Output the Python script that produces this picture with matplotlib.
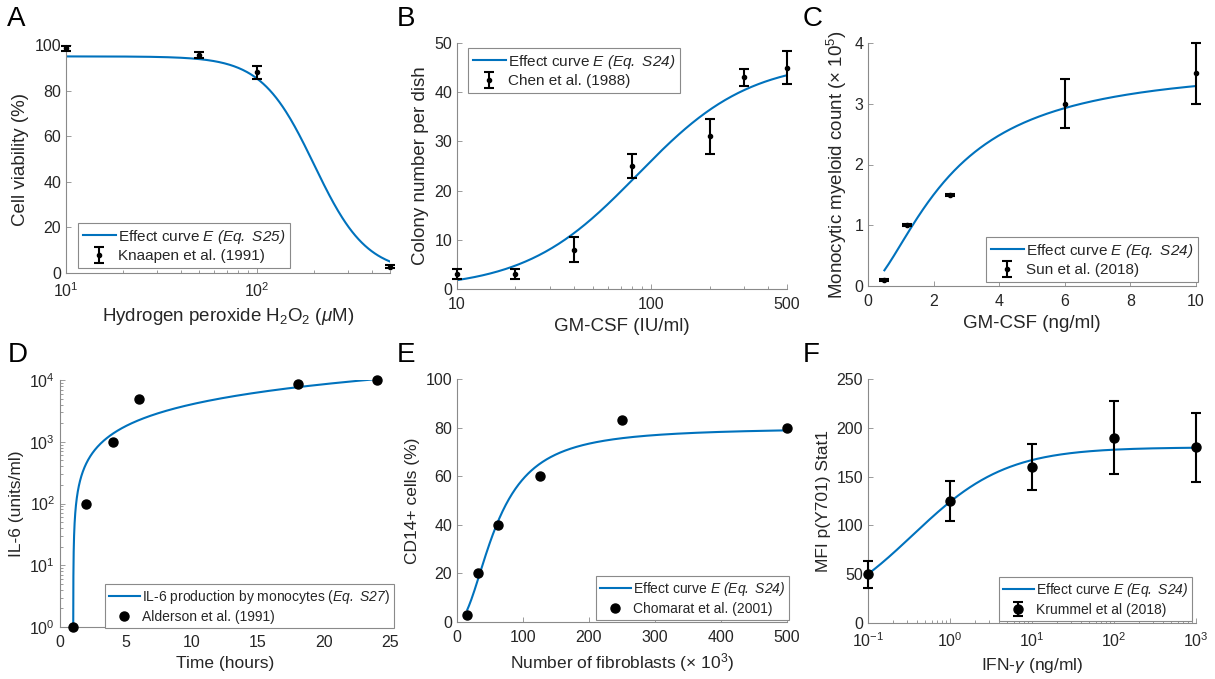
import numpy as np
import matplotlib
matplotlib.use("Agg")
import matplotlib.pyplot as plt

plt.rcParams['font.family'] = ['Liberation Sans', 'DejaVu Sans']
plt.rcParams['mathtext.fontset'] = 'custom'
# rm is italic too, so digits and brackets inside $...$ come out italic;
# upright bits use \mathdefault
plt.rcParams['mathtext.rm'] = 'Liberation Sans:italic'
plt.rcParams['mathtext.it'] = 'Liberation Sans:italic'
plt.rcParams['mathtext.bf'] = 'Liberation Sans:bold'

BLUE = '#0072BD'
GRAY = '#8a8a8a'
TXT = '#262626'

# A: H2O2 viability (Knaapen et al. 1991)
a_x = [10, 50, 100, 500]
a_y = [98.5, 95.6, 88, 2.8]
a_err = [1.2, 1.2, 2.9, 0.8]
a_top, a_ic50, a_hill = 95, 200, 3.15

# B: GM-CSF colonies (Chen et al. 1988)
b_x = [10, 20, 40, 80, 200, 300, 500]
b_y = [3, 3, 8, 25, 31, 43, 45]
b_err = [1.0, 1.0, 2.5, 2.4, 3.6, 1.8, 3.3]
b_max, b_ec50, b_hill = 46.5, 85, 1.5

# C: monocytic myeloid count (Sun et al. 2018)
c_x = [0.5, 1.2, 2.5, 6, 10]
c_y = [0.1, 1.0, 1.5, 3.0, 3.5]
c_err = [0.02, 0.02, 0.02, 0.4, 0.5]
c_max, c_ec50, c_hill = 3.65, 2.5, 1.6

# D: IL-6 (Alderson et al. 1991)
d_t = [1, 2, 4, 6, 18, 24]
d_y = [1, 100, 1000, 5000, 8500, 10000]
d_rate, d_t0 = 450, 1.0

# E: CD14+ cells (Chomarat et al. 2001)
e_x = [15.625, 31.25, 62.5, 125, 250, 500]
e_y = [3, 20, 40, 60, 83, 80]
e_max, e_ec50, e_hill = 80, 60, 2.0

# F: pStat1 (Krummel et al 2018)
f_x = [0.1, 1, 10, 100, 1000]
f_y = [50, 125, 160, 190, 180]
f_err = [13.7, 20, 23.5, 37, 35.5]
f_max, f_ec50, f_hill = 180, 0.35, 0.76

W, H = 1215, 679
fig = plt.figure(figsize=(W / 100, H / 100), dpi=100)


def axes_px(x0, y0, x1, y1):
    ax = fig.add_axes([x0 / W, 1 - y1 / H, (x1 - x0) / W, (y1 - y0) / H])
    for s in ['top', 'right']:
        ax.spines[s].set_visible(False)
    for s in ['left', 'bottom']:
        ax.spines[s].set_color(GRAY)
        ax.spines[s].set_linewidth(0.8)
    ax.tick_params(which='both', direction='in', color=GRAY, labelcolor=TXT,
                   labelsize=11.5, width=0.6)
    ax.tick_params(which='major', length=3.5)
    ax.tick_params(which='minor', length=2)
    ax.tick_params(axis='x', which='both', pad=6)
    return ax


def legend_px(ax, x0, y0, fs):
    leg = ax.legend(loc='upper left', bbox_to_anchor=(x0 / W, 1 - y0 / H),
                    bbox_transform=fig.transFigure, borderaxespad=0,
                    fontsize=fs, fancybox=False, framealpha=1,
                    edgecolor=GRAY, handlelength=2.2, handletextpad=0.15,
                    labelspacing=0.25, borderpad=0.3)
    leg.get_frame().set_linewidth(0.8)
    for t in leg.get_texts():
        t.set_color(TXT)
    return leg


def label(lx, ly, s):
    fig.text(lx / W, 1 - ly / H, s, fontsize=20, ha='left', va='top')


eb_kw = dict(fmt='.', color='k', ms=6, capsize=3.5, elinewidth=1.5,
             capthick=1.5, clip_on=False, zorder=3)
top_lab = dict(fontsize=13.5, color=TXT)
bot_lab = dict(fontsize=12.5, color=TXT)
eff24 = r'Effect curve $E\ (Eq.\ S24)$'

# ---- A
ax = axes_px(66, 45, 390, 273)
xs = np.logspace(1, np.log10(500), 300)
ax.plot(xs, a_top / (1 + (xs / a_ic50) ** a_hill), color=BLUE, lw=1.5,
        label=r'Effect curve $E\ (Eq.\ S25)$')
ax.errorbar(a_x, a_y, yerr=a_err, label='Knaapen et al. (1991)', **eb_kw)
ax.set_xscale('log')
ax.set_xlim(10, 500)
ax.set_ylim(0, 100)
ax.set_yticks(range(0, 101, 20))
ax.set_xticks([10, 100])
ax.set_xlabel(r'Hydrogen peroxide H$_\mathdefault{2}$O$_\mathdefault{2}$ ($\mu$M)', **top_lab)
ax.set_ylabel('Cell viability (%)', **top_lab)
legend_px(ax, 78, 223, 11)
label(7, 6, 'A')

# ---- B
ax = axes_px(457, 43, 787, 289)
xs = np.logspace(1, np.log10(500), 300)
ax.plot(xs, b_max * xs ** b_hill / (b_ec50 ** b_hill + xs ** b_hill), color=BLUE,
        lw=1.5, label=eff24)
ax.errorbar(b_x, b_y, yerr=b_err, label='Chen et al. (1988)', **eb_kw)
ax.set_xscale('log')
ax.set_xlim(10, 500)
ax.set_ylim(0, 50)
ax.set_xticks([10, 100, 500])
ax.set_xticklabels(['10', '100', '500'])
ax.set_xlabel('GM-CSF (IU/ml)', **top_lab)
ax.set_ylabel('Colony number per dish', **top_lab)
legend_px(ax, 468, 48, 11)
label(397, 6, 'B')

# ---- C
ax = axes_px(868, 43, 1196, 286)
xs = np.linspace(0.5, 10, 300)
ax.plot(xs, c_max * xs ** c_hill / (c_ec50 ** c_hill + xs ** c_hill), color=BLUE,
        lw=1.5, label=eff24)
ax.errorbar(c_x, c_y, yerr=c_err, label='Sun et al. (2018)', **eb_kw)
ax.set_xlim(0, 10)
ax.set_ylim(0, 4)
ax.set_xticks(range(0, 11, 2))
ax.set_yticks(range(0, 5))
ax.set_xlabel('GM-CSF (ng/ml)', **top_lab)
ax.set_ylabel(r'Monocytic myeloid count (× 10$^\mathdefault{5}$)', **top_lab)
legend_px(ax, 986, 237, 11)
label(803, 6, 'C')

# ---- D
ax = axes_px(60, 380, 390, 627)
ts = d_t0 + np.geomspace(1 / d_rate, 24 - d_t0, 400)
ax.plot(ts, d_rate * (ts - d_t0), color=BLUE, lw=1.5,
        label=r'IL-6 production by monocytes ($Eq.\ S27$)')
ax.plot(d_t, d_y, 'o', color='k', ms=6.5, clip_on=False, zorder=3,
        label='Alderson et al. (1991)')
ax.set_yscale('log')
ax.set_xlim(0, 25)
ax.set_ylim(1, 1e4)
ax.set_xticks(range(0, 26, 5))
ax.set_yticks([1, 10, 100, 1000, 10000])
ax.set_xlabel('Time (hours)', **bot_lab)
ax.set_ylabel('IL-6 (units/ml)', **bot_lab)
legend_px(ax, 105, 584, 10)
label(8, 342, 'D')

# ---- E
ax = axes_px(457, 379, 787, 622)
xs = np.linspace(15.625, 500, 400)
ax.plot(xs, e_max * xs ** e_hill / (e_ec50 ** e_hill + xs ** e_hill), color=BLUE,
        lw=1.5, label=eff24)
ax.plot(e_x, e_y, 'o', color='k', ms=6.5, clip_on=False, zorder=3,
        label='Chomarat et al. (2001)')
ax.set_xlim(0, 500)
ax.set_ylim(0, 100)
ax.set_xticks(range(0, 501, 100))
ax.set_yticks(range(0, 101, 20))
ax.set_xlabel(r'Number of fibroblasts (× 10$^\mathdefault{3}$)', **bot_lab)
ax.set_ylabel('CD14+ cells (%)', **bot_lab)
legend_px(ax, 596, 576, 10)
label(397, 342, 'E')

# ---- F
ax = axes_px(868, 379, 1196, 623)
xs = np.logspace(-1, 3, 400)
ax.plot(xs, f_max * xs ** f_hill / (f_ec50 ** f_hill + xs ** f_hill), color=BLUE,
        lw=1.5, label=eff24)
ax.errorbar(f_x, f_y, yerr=f_err, label='Krummel et al (2018)',
            **dict(eb_kw, fmt='o', ms=6.5))
ax.set_xscale('log')
ax.set_xlim(0.1, 1000)
ax.set_ylim(0, 250)
ax.set_xticks([0.1, 1, 10, 100, 1000])
ax.set_yticks(range(0, 251, 50))
ax.set_xlabel(r'IFN-$\gamma$ (ng/ml)', **bot_lab)
ax.set_ylabel('MFI p(Y701) Stat1', **bot_lab)
legend_px(ax, 999, 577, 10)
label(803, 342, 'F')

fig.savefig('out.png', dpi=100)
